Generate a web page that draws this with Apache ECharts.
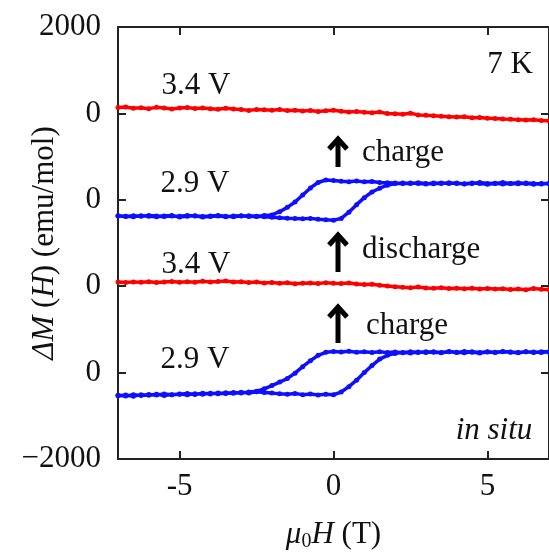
<!DOCTYPE html>
<html>
<head>
<meta charset="utf-8">
<title>in situ ΔM(H)</title>
<script src="https://cdn.jsdelivr.net/npm/echarts@6/dist/echarts.min.js"></script>
<style>
html,body{margin:0;padding:0;background:#fff;}
#main{width:549px;height:557px;}
</style>
</head>
<body>
<div id="main"></div>
<script>
// field values (T), same grid for every branch
var fields = [-7,-6.75,-6.5,-6.25,-6,-5.75,-5.5,-5.25,
	-5,-4.75,-4.5,-4.25,-4,-3.75,-3.5,-3.25,
	-3,-2.75,-2.5,-2.25,-2,-1.75,-1.5,-1.25,
	-1,-0.75,-0.5,-0.25,0,0.25,0.5,0.75,
	1,1.25,1.5,1.75,2,2.25,2.5,2.75,
	3,3.25,3.5,3.75,4,4.25,4.5,4.75,
	5,5.25,5.5,5.75,6,6.25,6.5,6.75,
	7];

// 3.4 V after charge (top)
var m34Top = [55,60,48,52,44,56,50,41,
	49,55,46,50,44,38,47,40,
	36,28,37,33,30,35,26,30,
	22,27,18,25,30,20,14,18,
	10,6,12,0,-4,-8,2,-14,
	-18,-22,-27,-30,-34,-31,-40,-38,
	-45,-48,-52,-55,-58,-62,-58,-66,
	-68];

// 2.9 V, sweep up / sweep down
var m29TopUp = [-150,-155,-148,-152,-146,-150,-155,-149,
	-153,-145,-150,-160,-154,-150,-156,-151,
	-148,-155,-152,-158,-162,-166,-170,-173,
	-176,-172,-180,-185,-190,-172,-115,-45,
	20,72,107,135,150,155,150,158,
	152,148,156,150,155,147,152,160,
	150,154,146,152,157,150,145,152,
	150];
var m29TopDown = [-148,-152,-156,-147,-153,-158,-150,-145,
	-160,-152,-148,-154,-150,-146,-152,-157,
	-150,-148,-155,-145,-140,-110,-70,-20,
	45,110,160,183,178,172,168,175,
	166,170,160,158,155,150,156,150,
	146,155,150,158,152,148,155,150,
	145,152,160,150,148,155,150,146,
	152];

// 3.4 V after discharge
var m34Low = [38,34,40,36,42,35,39,44,
	37,41,36,45,40,43,48,39,
	42,35,38,30,34,28,32,22,
	27,30,24,33,28,25,30,20,
	15,18,8,2,-4,-10,-14,-8,
	-16,-20,-15,-22,-18,-24,-20,-26,
	-22,-27,-24,-30,-26,-32,-22,-28,
	-30];

// 2.9 V first (bottom)
var m29LowUp = [-214,-208,-218,-205,-210,-200,-212,-204,
	-198,-206,-195,-200,-192,-196,-186,-192,
	-182,-188,-178,-185,-190,-196,-200,-194,
	-204,-198,-208,-200,-205,-180,-130,-70,
	0,65,125,160,178,186,182,190,
	185,192,186,195,188,184,192,186,
	194,188,196,190,186,194,190,185,
	192];
var m29LowDown = [-210,-216,-206,-212,-202,-208,-198,-206,
	-200,-194,-202,-192,-197,-188,-194,-184,
	-190,-180,-172,-150,-120,-88,-55,-5,
	55,110,160,188,196,190,198,188,
	194,186,192,185,190,184,192,186,
	194,188,184,192,186,195,188,182,
	190,186,194,188,184,192,186,194,
	188];

// vertical offsets of each curve (emu/mol)
var offsets = [1200, 400, -400, -1200];
var colors = ['#ff0000', '#0f0fff', '#ff0000', '#0f0fff'];
var voltLabels = ['3.4 V', '2.9 V', '3.4 V', '2.9 V'];

// tick labels
var xTicks = [-5, 0, 5];
var xTickLabels = ['-5', '0', '5'];
var yTickValues = [-2000, -1200, -400, 400, 1200, 2000];
var yTickLabels = ['\u22122000', '0', '0', '0', '0', '2000'];
var yMinorTicks = [-1200, -400, 400, 1200];

var FONT = 'Liberation Serif';

/**
 * 把一条曲线的数据拼成 [x, y] 对
 */
function branch(vals, off, reverse) {
	var out = [];
	for (var i = 0; i < fields.length; i++) {
		out.push([fields[i], vals[i] + off]);
	}
	if (reverse) out.reverse();
	return out;
}
function loop(up, down, off) {
	return branch(up, off, false).concat(branch(down, off, true));
}

var curves = [
	branch(m34Top, offsets[0], false),
	loop(m29TopUp, m29TopDown, offsets[1]),
	branch(m34Low, offsets[2], false),
	loop(m29LowUp, m29LowDown, offsets[3])
];

var axisCol = '#222';
function xAxisOf(pos, showLabel) {
	return {
		type: 'value', position: pos, min: -7, max: 7,
		axisLine: {show: true, onZero: false, lineStyle: {color: axisCol, width: 2}},
		axisTick: {show: true, inside: true, length: 8, customValues: xTicks, lineStyle: {color: axisCol, width: 2}},
		axisLabel: {
			show: showLabel, customValues: xTicks, margin: 12,
			fontFamily: FONT, fontSize: 31, color: '#111',
			formatter: function (v) { return xTickLabels[xTicks.indexOf(v)]; }
		},
		splitLine: {show: false}
	};
}
function yAxisOf(pos, showLabel) {
	return {
		type: 'value', position: pos, min: -2000, max: 2000, interval: 400,
		axisLine: {show: true, onZero: false, lineStyle: {color: axisCol, width: 2}},
		axisTick: {show: true, inside: true, length: 8, customValues: yMinorTicks, lineStyle: {color: axisCol, width: 2}},
		axisLabel: {
			show: showLabel, customValues: yTickValues, margin: 17,
			fontFamily: FONT, fontSize: 31, color: '#111',
			formatter: function (v) { return yTickLabels[yTickValues.indexOf(v)]; }
		},
		splitLine: {show: false}
	};
}

var xMain = xAxisOf('bottom', true);
xMain.name = '{i|\u03bc}{s|0}{i|H} (T)';
xMain.nameLocation = 'middle';
xMain.nameGap = 59;
xMain.nameMoveOverlap = false;
xMain.nameTextStyle = {fontFamily: FONT, fontSize: 31, color: '#111',
	rich: {i: {fontFamily: FONT, fontSize: 31, fontStyle: 'italic', color: '#111'},
		s: {fontFamily: FONT, fontSize: 20, color: '#111', verticalAlign: 'bottom', padding: [14, 0, 0, 0]}}};

var yMain = yAxisOf('left', true);
yMain.name = '{i|\u0394M} ({i|H}) (emu/mol)';
yMain.nameLocation = 'middle';
yMain.nameRotate = 90;
yMain.nameGap = 58;
yMain.nameMoveOverlap = false;
yMain.nameTextStyle = {fontFamily: FONT, fontSize: 31, color: '#111',
	rich: {i: {fontFamily: FONT, fontSize: 31, fontStyle: 'italic', color: '#111'}}};

var series = [];
for (var k = 0; k < curves.length; k++) {
	series.push({
		type: 'line', name: voltLabels[k], data: curves[k],
		xAxisIndex: 0, yAxisIndex: 0,
		symbol: 'circle', symbolSize: 5, showSymbol: true,
		lineStyle: {color: colors[k], width: 3.5},
		itemStyle: {color: colors[k]},
		emphasis: {disabled: true}
	});
}

// 文字与箭头标注
function txt(s, x, y, align, italic) {
	return {
		type: 'text', x: x, y: y, z: 100,
		style: {text: s, fontFamily: FONT, fontSize: 31, fontStyle: italic ? 'italic' : 'normal',
			fill: '#111', align: align, verticalAlign: 'middle'}
	};
}
function arrow(x, y0, y1) {
	return {
		type: 'group', z: 100,
		children: [
			{type: 'line', shape: {x1: x, y1: y0 + 3, x2: x, y2: y1},
				style: {stroke: '#000', lineWidth: 5}},
			{type: 'polyline', shape: {points: [[x - 9, y0 + 11], [x, y0 + 1], [x + 9, y0 + 11]]},
				style: {stroke: '#000', lineWidth: 5, fill: null, lineJoin: 'miter'}}
		]
	};
}

var graphics = [
	txt(voltLabels[0], 196, 86, 'center'),
	txt(voltLabels[1], 195, 184, 'center'),
	txt(voltLabels[2], 196, 265, 'center'),
	txt(voltLabels[3], 195, 360, 'center'),
	txt('7 K', 510, 65, 'center'),
	txt('charge', 362, 153, 'left'),
	txt('discharge', 362, 250, 'left'),
	txt('charge', 366, 326, 'left'),
	txt('in situ', 494, 431, 'center', true),
	arrow(338, 138, 167),
	arrow(338, 234, 272),
	arrow(338, 306, 343)
];

var chart = echarts.init(document.getElementById('main'));
var option = {
	animation: false,
	backgroundColor: '#fff',
	grid: {left: 118, top: 27, width: 436, height: 436, containLabel: false},
	xAxis: [xMain, xAxisOf('top', false)],
	yAxis: [yMain, yAxisOf('right', false)],
	series: series,
	graphic: graphics
};
chart.setOption(option);
</script>
</body>
</html>
